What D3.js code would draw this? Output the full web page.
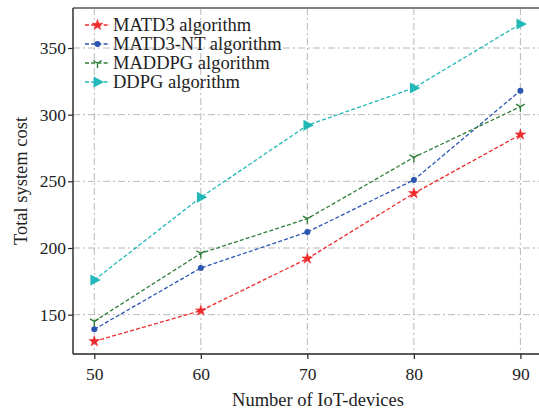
<!DOCTYPE html>
<html>
<head>
<meta charset="utf-8">
<script src="https://cdn.jsdelivr.net/npm/d3@7"></script>
<style>
  html, body { margin: 0; padding: 0; background: #fff; overflow: hidden; }
  svg { display: block; }
  text { font-family: "Liberation Serif", "Times New Roman", serif; fill: #222; }
</style>
</head>
<body>
<svg id="chart" width="539" height="411"></svg>
<script>
// IoT-device counts on the x axis
const devices = [50, 60, 70, 80, 90];

// Total system cost per algorithm
const matd3   = [130, 153, 192, 241, 285];
const matd3nt = [139, 185, 212, 251, 318];
const maddpg  = [145, 196, 222, 268, 306];
const ddpg    = [176, 238, 292, 320, 368];

const seriesNames = ["MATD3 algorithm", "MATD3-NT algorithm", "MADDPG algorithm", "DDPG algorithm"];
const xTicks = [50, 60, 70, 80, 90];
const yTicks = [150, 200, 250, 300, 350];

const series = [
  { name: seriesNames[0], values: matd3,   color: "#ee2b2b", marker: "star" },
  { name: seriesNames[1], values: matd3nt, color: "#2a56b0", marker: "circle" },
  { name: seriesNames[2], values: maddpg,  color: "#2f7f3a", marker: "tri_down" },
  { name: seriesNames[3], values: ddpg,    color: "#22b8b8", marker: "tri_right" }
];

const svg = d3.select("#chart");
const plotLeft = 73, plotTop = 8, plotRight = 563, plotBottom = 354;

const x = d3.scaleLinear().domain([48, 94]).range([plotLeft, plotRight]);
const y = d3.scaleLinear().domain([120.5, 380]).range([plotBottom, plotTop]);

// grid lines (dash-dot)
const grid = svg.append("g");
grid.selectAll("line.gx").data(xTicks).join("line")
  .attr("x1", d => x(d)).attr("x2", d => x(d))
  .attr("y1", plotTop).attr("y2", plotBottom)
  .attr("stroke", "#b8b8b8").attr("stroke-width", 1)
  .attr("stroke-dasharray", "7,3,2,3");
grid.selectAll("line.gy").data(yTicks).join("line")
  .attr("x1", plotLeft).attr("x2", plotRight)
  .attr("y1", d => y(d)).attr("y2", d => y(d))
  .attr("stroke", "#b8b8b8").attr("stroke-width", 1)
  .attr("stroke-dasharray", "7,3,2,3");

// top frame
svg.append("line")
  .attr("x1", plotLeft).attr("x2", plotRight).attr("y1", plotTop).attr("y2", plotTop)
  .attr("stroke", "#808080").attr("stroke-width", 2);

// axes
const xAxis = d3.axisBottom(x).tickValues(xTicks).tickSize(5).tickPadding(9).tickFormat(d3.format("d"));
const yAxis = d3.axisLeft(y).tickValues(yTicks).tickSize(5).tickPadding(2).tickFormat(d3.format("d"));

const gx = svg.append("g").attr("transform", `translate(0,${plotBottom})`).call(xAxis);
const gy = svg.append("g").attr("transform", `translate(${plotLeft},0)`).call(yAxis);
[gx, gy].forEach(g => {
  g.select(".domain").attr("stroke", "#222").attr("stroke-width", 1.4);
  g.selectAll(".tick line").attr("stroke", "#222").attr("stroke-width", 1.2);
  g.selectAll(".tick text").style("font-family", "'Liberation Serif', serif")
    .style("font-size", "17.5px").attr("fill", "#222");
});
gx.select(".domain").attr("d", `M${plotLeft},0H${plotRight}`);
gy.select(".domain").attr("d", `M0,${plotTop}V${plotBottom}`);

// axis titles
svg.append("text")
  .attr("x", x(71)).attr("y", 406)
  .attr("text-anchor", "middle")
  .style("font-size", "18.5px")
  .text("Number of IoT-devices");
svg.append("text")
  .attr("transform", `translate(27,${(plotTop + plotBottom) / 2}) rotate(-90)`)
  .attr("text-anchor", "middle")
  .style("font-size", "18.5px")
  .text("Total system cost");

// marker drawing
function drawMarker(g, type, color) {
  if (type === "star") {
    g.append("path").attr("d", d3.symbol(d3.symbolStar, 36)())
      .attr("fill", color).attr("stroke", color).attr("stroke-width", 0.5);
  } else if (type === "circle") {
    g.append("circle").attr("r", 3).attr("fill", color);
  } else if (type === "tri_down") {
    const s = 5;
    g.append("path")
      .attr("d", `M0,0V${s}M0,0L${-s * 0.87},${-s * 0.5}M0,0L${s * 0.87},${-s * 0.5}`)
      .attr("stroke", color).attr("stroke-width", 1.4).attr("fill", "none");
  } else if (type === "tri_right") {
    const s = 6.5;
    g.append("path")
      .attr("d", `M${s},0L${-s * 0.6},${-s * 0.85}L${-s * 0.6},${s * 0.85}Z`)
      .attr("fill", color);
  }
}

const line = d3.line().x((d, i) => x(devices[i])).y(d => y(d));

series.forEach(s => {
  svg.append("path")
    .datum(s.values)
    .attr("d", line)
    .attr("fill", "none")
    .attr("stroke", s.color)
    .attr("stroke-width", 1.3)
    .attr("stroke-dasharray", "4,2.2");
  s.values.forEach((v, i) => {
    const g = svg.append("g").attr("transform", `translate(${x(devices[i])},${y(v)})`);
    drawMarker(g, s.marker, s.color);
  });
});

// legend
const legend = svg.append("g");
const legendY = [25, 44, 63, 82];
series.forEach((s, i) => {
  const row = legend.append("g").attr("transform", `translate(85,${legendY[i]})`);
  row.append("line").attr("x1", 0).attr("x2", 25).attr("y1", 0).attr("y2", 0)
    .attr("stroke", s.color).attr("stroke-width", 1.3).attr("stroke-dasharray", "4,2.2");
  const m = row.append("g").attr("transform", "translate(12.5,0)");
  drawMarker(m, s.marker, s.color);
  row.append("text").attr("x", 28).attr("y", 0).attr("dy", "0.35em")
    .style("font-size", "18.5px").text(s.name);
});
</script>
</body>
</html>
